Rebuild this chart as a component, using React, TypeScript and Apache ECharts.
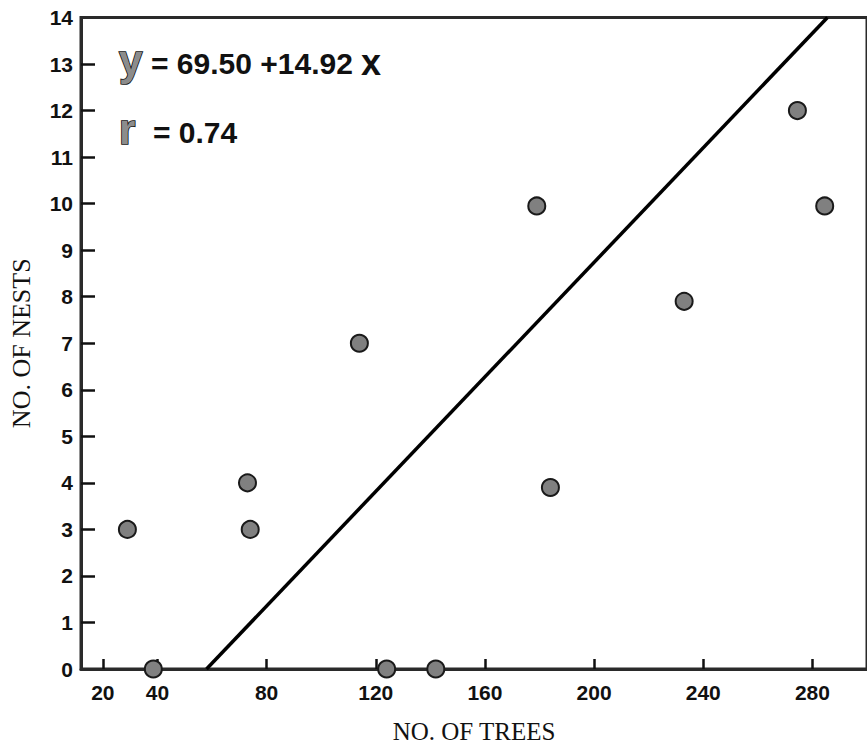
import React, { useEffect, useRef } from "react";
import * as echarts from "echarts";

// Data
const treeCounts = [29, 38.5, 73, 74, 114, 124, 142, 179, 184, 233, 274.5, 284.5];
const nestCounts = [3, 0, 4, 3, 7, 0, 0, 9.95, 3.9, 7.9, 12, 9.95];

// Fitted regression line end points (as drawn)
const lineTrees = [58, 285.5];
const lineNests = [0, 14];

// Tick labels
const xLabelValues = [20, 40, 80, 120, 160, 200, 240, 280];
const xTickValues = [20, 40, 80, 120, 160, 200, 240, 280];
const yLabelValues = [0, 1, 2, 3, 4, 5, 6, 7, 8, 9, 10, 11, 12, 13, 14];
const yTickValues = [1, 2, 3, 4, 5, 6, 7, 8, 9, 10, 11, 12, 13];

const xTitle = "NO. OF TREES";
const yTitle = "NO. OF NESTS";
const eqY = "y";
const eqCoef = "= 69.50 +14.92";
const eqX = "x";
const rLetter = "r";
const rValue = "= 0.74";

const SANS = "'Liberation Sans', Arial, Helvetica, sans-serif";
const SERIF = "'Liberation Serif', 'Times New Roman', serif";

export default function App() {
  const ref = useRef<HTMLDivElement>(null);

  useEffect(() => {
    document.body.style.margin = "0";
    if (!ref.current) return;
    const chart = echarts.init(ref.current, undefined, { renderer: "svg" });

    const points = treeCounts.map((t, i) => [t, nestCounts[i]]);
    const linePts = lineTrees.map((t, i) => [t, lineNests[i]]);

    const letterStyle = (text: string, size: number) => ({
      text,
      fontFamily: SANS,
      fontWeight: "bold",
      fontSize: size,
      fill: "#8c8c8c",
      stroke: "#111",
      lineWidth: 1.6,
      verticalAlign: "middle",
      align: "left",
    });
    const numStyle = (text: string, size: number) => ({
      text,
      fontFamily: SANS,
      fontWeight: "bold",
      fontSize: size,
      fill: "#111",
      verticalAlign: "middle",
      align: "left",
    });

    chart.setOption({
      animation: false,
      backgroundColor: "#ffffff",
      grid: {
        left: 80,
        right: -6,
        top: 17.5,
        bottom: 76.3,
        show: true,
        borderColor: "#2a2a2a",
        borderWidth: 3,
        containLabel: false,
      },
      xAxis: {
        type: "value",
        min: 12,
        max: 300,
        name: xTitle,
        nameLocation: "middle",
        nameGap: 50,
        nameTextStyle: {
          fontFamily: SERIF,
          fontSize: 25,
          color: "#111",
        },
        axisLine: { show: true, onZero: false, lineStyle: { color: "#2a2a2a", width: 3 } },
        axisTick: {
          show: true,
          inside: true,
          length: 10,
          customValues: xTickValues,
          lineStyle: { color: "#111", width: 2.5 },
        },
        axisLabel: {
          customValues: xLabelValues,
          fontFamily: SANS,
          fontWeight: "bold",
          fontSize: 21,
          color: "#111",
          margin: 13,
        },
        splitLine: { show: false },
      },
      yAxis: {
        type: "value",
        min: 0,
        max: 14,
        name: yTitle,
        nameLocation: "middle",
        nameGap: 47,
        nameRotate: 90,
        nameTextStyle: {
          fontFamily: SERIF,
          fontSize: 26,
          color: "#111",
        },
        axisLine: { show: true, onZero: false, lineStyle: { color: "#2a2a2a", width: 3 } },
        axisTick: {
          show: true,
          inside: true,
          length: 14,
          customValues: yTickValues,
          lineStyle: { color: "#111", width: 2.5 },
        },
        axisLabel: {
          customValues: yLabelValues,
          fontFamily: SANS,
          fontWeight: "bold",
          fontSize: 21,
          color: "#111",
          margin: 8,
        },
        splitLine: { show: false },
      },
      graphic: [
        { type: "text", x: 119, y: 60, style: letterStyle(eqY, 42) },
        { type: "text", x: 151, y: 63.5, style: numStyle(eqCoef, 30) },
        { type: "text", x: 361, y: 62, style: numStyle(eqX, 36) },
        { type: "text", x: 119, y: 129, style: letterStyle(rLetter, 42) },
        { type: "text", x: 153, y: 132.5, style: numStyle(rValue, 30) },
      ],
      series: [
        {
          type: "line",
          data: linePts,
          symbol: "none",
          clip: true,
          lineStyle: { color: "#000", width: 3.5 },
          z: 2,
        },
        {
          type: "scatter",
          data: points,
          symbol: "circle",
          symbolSize: 17,
          clip: false,
          itemStyle: {
            color: "#808080",
            borderColor: "#1a1a1a",
            borderWidth: 2,
            opacity: 1,
          },
          z: 3,
        },
      ],
    });

    return () => {
      chart.dispose();
    };
  }, []);

  return <div ref={ref} style={{ width: 867, height: 749 }} />;
}
